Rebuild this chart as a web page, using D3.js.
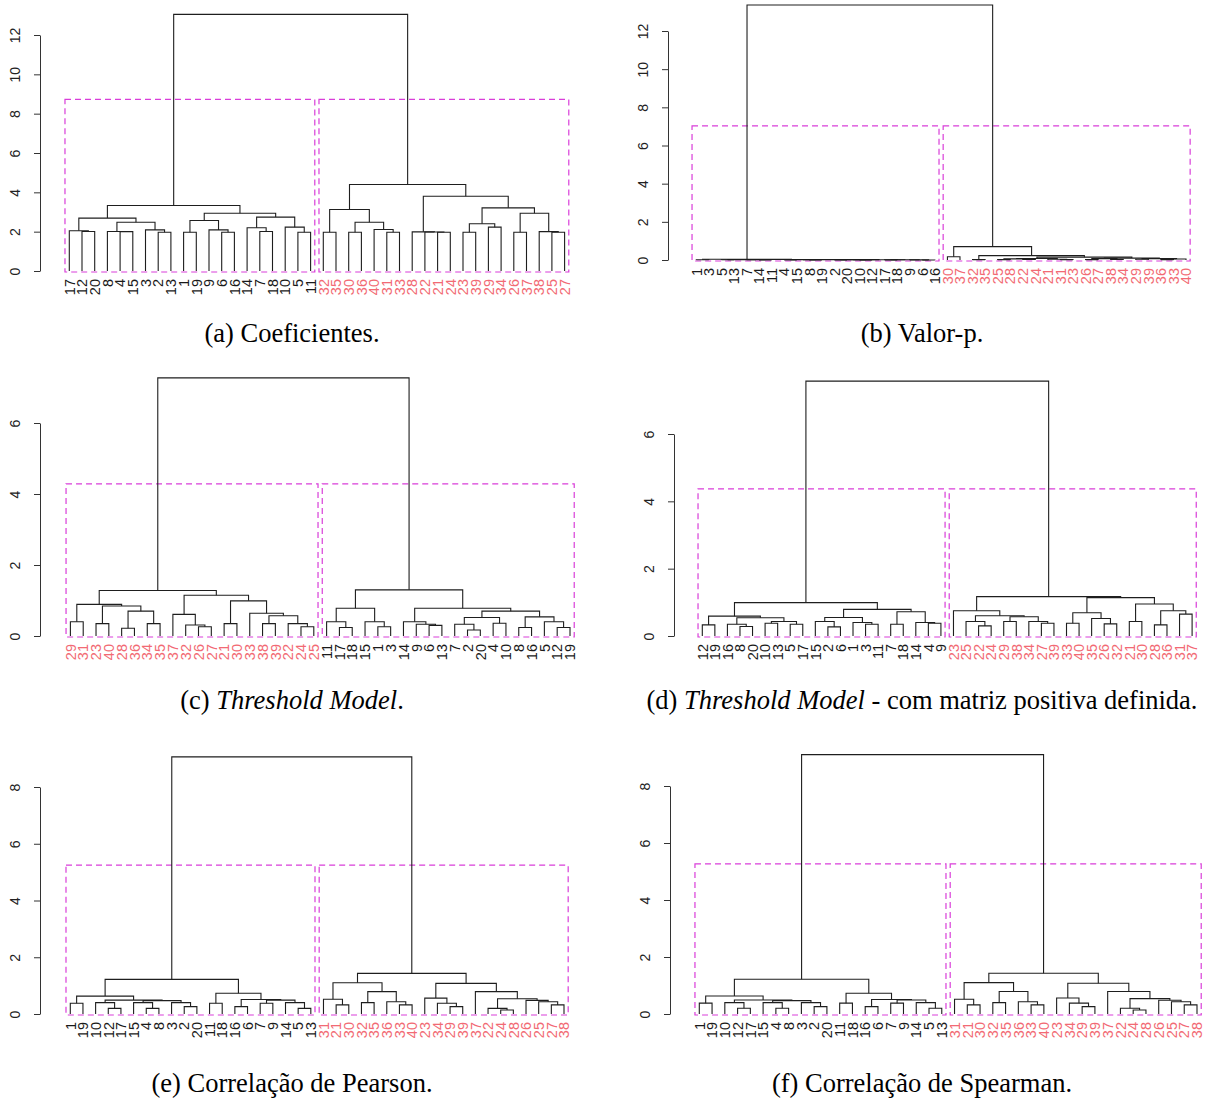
<!DOCTYPE html>
<html>
<head>
<meta charset="utf-8">
<script src="https://cdn.jsdelivr.net/npm/d3@7"></script>
<style>
  body { margin: 0; background: #fff; }
  svg { display: block; }
</style>
</head>
<body>
<svg id="fig" width="1209" height="1100"></svg>
<script>
// Hierarchical clustering trees. Internal node = [mergeHeight, left, right]; leaves are sample ids.
const coefTree = [13.05,
  [3.33,
    [2.69, [2.05, 17, [2.01, 12, 20]], [2.48, [2.01, 8, [2.0, 4, 15]], [2.09, 3, [1.97, 2, 13]]]],
    [2.94, [2.57, [1.97, 1, 19], [2.09, 9, [1.97, 6, 16]]], [2.74, [2.2, 14, [2.01, 7, 18]], [2.23, 10, [1.97, 5, 11]]]]],
  [4.4,
    [3.13, [1.97, 32, 35], [2.48, [1.97, 30, 36], [2.11, 40, [1.97, 31, 33]]]],
    [3.8, [1.99, 28, [1.98, 22, [1.97, 21, 24]]],
      [3.21, [2.4, [1.97, 23, 39], [2.23, 29, 34]], [2.94, [1.97, 26, 37], [2.0, 38, [1.97, 25, 27]]]]]]
];

const pvalTree = [13.36,
  [0.04, [0.01, 1, 3],
    [0.03,
      [0.02, [0.01, 5, 13], [0.01, 7, [0.005, 14, 11]]],
      [0.02, [0.01, [0.005, 4, 15], [0.005, 8, 19]],
        [0.015, [0.01, [0.005, 2, 20], [0.005, 10, 12]], [0.01, [0.005, 17, 18], [0.005, 9, [0.002, 6, 16]]]]]]],
  [0.70, [0.17, 30, 37],
    [0.23, [0.02, 32, 35],
      [0.15,
        [0.08, [0.06, [0.02, 25, 28], [0.03, 22, 24]], [0.04, 21, [0.02, 31, 23]]],
        [0.10, [0.07, [0.02, 26, 27], [0.03, 38, 34]], [0.07, [0.04, 29, 39], [0.05, [0.02, 36, 33], 40]]]]]]
];

const thresholdTree = [7.27,
  [1.28,
    [0.89, [0.40, 29, 31], [0.845, [0.35, 23, 40], [0.70, [0.22, 28, 36], [0.35, 34, 35]]]],
    [1.15, [0.61, 37, [0.31, 32, [0.26, 26, 27]]],
      [0.99, [0.35, 21, 30], [0.64, 33, [0.57, [0.35, 38, 39], [0.35, 22, [0.26, 24, 25]]]]]]],
  [1.30,
    [0.78, [0.40, 11, [0.24, 17, 18]], [0.40, 15, [0.26, 1, 3]]],
    [0.78, [0.40, 14, [0.33, 9, [0.30, 6, 13]]],
      [0.70, [0.52, [0.33, 7, [0.17, 2, 20]], [0.36, 4, 10]], [0.54, [0.24, 8, 16], [0.40, 5, [0.24, 12, 19]]]]]]
];

const thresholdPdTree = [7.57,
  [0.99,
    [0.59, [0.33, 12, 19], [0.54, [0.35, 16, [0.28, 8, 20]], [0.43, [0.38, 10, 13], [0.35, 5, 17]]]],
    [0.79, [0.55, [0.43, 15, [0.27, 2, 6]], [0.40, 1, [0.35, 3, 11]]], [0.72, [0.35, 7, 18], [0.40, 14, [0.38, 4, 9]]]]],
  [1.17,
    [0.75, 23, [0.60, [0.43, 25, [0.30, 22, 24]], [0.57, [0.43, 29, 38], [0.43, 34, [0.38, 27, 39]]]]],
    [1.14, [0.69, [0.38, 33, 40], [0.52, 35, [0.36, 26, 32]]], [0.95, [0.43, 21, 30], [0.75, [0.33, 28, 36], [0.65, 31, 37]]]]]
];

const pearsonTree = [9.06,
  [1.22,
    [0.63, [0.38, 1, 19], [0.49, [0.40, 10, [0.20, 12, 17]], [0.47, [0.40, 15, [0.20, 4, 8]], [0.40, 3, [0.26, 2, 20]]]]],
    [0.73, [0.38, 11, 18], [0.51, [0.26, 16, 6], [0.49, [0.38, 7, 9], [0.40, 14, [0.20, 5, 13]]]]]],
  [1.43,
    [1.10, [0.52, 31, [0.32, 21, 30]], [0.79, [0.40, 32, 35], [0.43, 36, [0.32, 33, 40]]]],
    [1.08, [0.56, 23, [0.38, 34, [0.26, 29, 39]]],
      [0.79, 37, [0.54, [0.20, 22, [0.14, 24, 28]], [0.48, 26, [0.43, 25, [0.32, 27, 38]]]]]]]
];

const spearmanTree = [9.10,
  [1.22,
    [0.63, [0.38, 1, 19], [0.49, [0.40, 10, [0.20, 12, 17]], [0.47, [0.40, 15, [0.20, 4, 8]], [0.40, 3, [0.26, 2, 20]]]]],
    [0.73, [0.38, 11, 18], [0.51, [0.26, 16, 6], [0.49, [0.38, 7, 9], [0.40, 14, [0.20, 5, 13]]]]]],
  [1.43,
    [1.10, [0.52, 31, [0.32, 21, 30]], [0.79, [0.40, 32, 35], [0.43, 36, [0.32, 33, 40]]]],
    [1.08, [0.56, 23, [0.38, 34, [0.26, 29, 39]]],
      [0.79, 37, [0.54, [0.20, 22, [0.14, 24, 28]], [0.48, 26, [0.43, 25, [0.32, 27, 38]]]]]]]
];

// Axis tick values
const ticks12 = [0, 2, 4, 6, 8, 10, 12];
const ticks6 = [0, 2, 4, 6];
const ticks8 = [0, 2, 4, 6, 8];

// Sub-figure captions: [text, italic]
const captionA = [["(a) Coeficientes.", false]];
const captionB = [["(b) Valor-p.", false]];
const captionC = [["(c) ", false], ["Threshold Model", true], [".", false]];
const captionD = [["(d) ", false], ["Threshold Model", true], [" - com matriz positiva definida.", false]];
const captionE = [["(e) Correlação de Pearson.", false]];
const captionF = [["(f) Correlação de Spearman.", false]];

// Panel layout
const panels = [
  { tree: coefTree, ticks: ticks12, caption: captionA, axisX: 40, x0: 69.3, x1: 564.6, yDom: [0, 12], yRng: [271, 35], capX: 292, capY: 342 },
  { tree: pvalTree, ticks: ticks12, caption: captionB, axisX: 668, x0: 696.3, x1: 1186, yDom: [0, 12], yRng: [260, 31], capX: 922, capY: 342 },
  { tree: thresholdTree, ticks: ticks6, caption: captionC, axisX: 40, x0: 70.4, x1: 570, yDom: [0, 6], yRng: [636, 423], capX: 292, capY: 709 },
  { tree: thresholdPdTree, ticks: ticks6, caption: captionD, axisX: 674, x0: 702.3, x1: 1192.1, yDom: [0, 6], yRng: [636, 434], capX: 922, capY: 709 },
  { tree: pearsonTree, ticks: ticks8, caption: captionE, axisX: 40, x0: 70.3, x1: 564, yDom: [0, 8], yRng: [1014, 787], capX: 292, capY: 1092 },
  { tree: spearmanTree, ticks: ticks8, caption: captionF, axisX: 670, x0: 699.3, x1: 1197, yDom: [0, 8], yRng: [1014, 786], capX: 922, capY: 1092 }
];

const LINE = "#1e1e1e";
const GROUP_A = "#1a1a1a";
const GROUP_B = "#f26a74";
const BOX = "#d93ed9";
const SANS = "'Liberation Sans', Arial, sans-serif";
const SERIF = "'Liberation Serif', 'Times New Roman', serif";

const svg = d3.select("#fig");

function drawPanel(p) {
  const g = svg.append("g");
  const root = d3.hierarchy(p.tree, d => Array.isArray(d) ? d.slice(1) : null);
  const leaves = root.leaves();
  const n = leaves.length;
  d3.cluster().separation(() => 1).size([n, 1])(root);

  const x = d3.scaleLinear().domain([1, n]).range([p.x0, p.x1]);
  const y = d3.scaleLinear().domain(p.yDom).range(p.yRng);
  const h = d => Array.isArray(d.data) ? d.data[0] : 0;
  root.each(d => { d.pos = d.x + 0.5; d.px = x(d.pos); d.py = y(h(d)); });

  // cluster boxes (k = 2), drawn at the midpoint between the last two merges
  const cut = (h(root) + d3.max(root.children, h)) / 2;
  g.selectAll("rect.box").data(root.children).join("rect")
    .attr("class", "box")
    .attr("x", c => x(d3.min(c.leaves(), l => l.pos) - 0.34))
    .attr("width", c => x(d3.max(c.leaves(), l => l.pos) + 0.33) - x(d3.min(c.leaves(), l => l.pos) - 0.34))
    .attr("y", y(cut))
    .attr("height", y(0) + 1 - y(cut))
    .attr("fill", "none")
    .attr("stroke", BOX)
    .attr("stroke-width", 1.2)
    .attr("stroke-dasharray", "6,4");

  // dendrogram links
  g.selectAll("path.link").data(root.descendants().filter(d => d.children)).join("path")
    .attr("class", "link")
    .attr("d", d => {
      const [a, b] = d.children;
      return `M${a.px},${a.py}V${d.py}H${b.px}V${b.py}`;
    })
    .attr("fill", "none")
    .attr("stroke", LINE)
    .attr("stroke-width", 1.1);

  // leaf labels
  g.selectAll("text.leaf").data(leaves).join("text")
    .attr("class", "leaf")
    .attr("transform", d => `translate(${d.px},${y(0) + 8}) rotate(-90)`)
    .attr("text-anchor", "end")
    .attr("dy", "0.36em")
    .attr("font-family", SANS)
    .attr("font-size", 14.5)
    .attr("fill", d => d.data > 20 ? GROUP_B : GROUP_A)
    .text(d => d.data);

  // y axis
  const ax = g.append("g")
    .attr("transform", `translate(${p.axisX},0)`)
    .call(d3.axisLeft(y).tickValues(p.ticks).tickSize(6).tickSizeOuter(0).tickFormat(d3.format("d")));
  ax.select(".domain").attr("stroke", "#333");
  ax.selectAll(".tick line").attr("stroke", "#333");
  ax.selectAll(".tick text")
    .attr("x", 0).attr("y", -20).attr("dy", null)
    .attr("transform", "rotate(-90)")
    .attr("text-anchor", "middle")
    .attr("font-family", SANS)
    .attr("font-size", 14)
    .attr("fill", "#222");

  // caption
  const cap = svg.append("text")
    .attr("x", p.capX).attr("y", p.capY)
    .attr("text-anchor", "middle")
    .attr("font-family", SERIF)
    .attr("font-size", 26.5)
    .attr("fill", "#000");
  p.caption.forEach(([t, it]) => {
    cap.append("tspan").attr("font-style", it ? "italic" : "normal").text(t);
  });
}

panels.forEach(drawPanel);
</script>
</body>
</html>
